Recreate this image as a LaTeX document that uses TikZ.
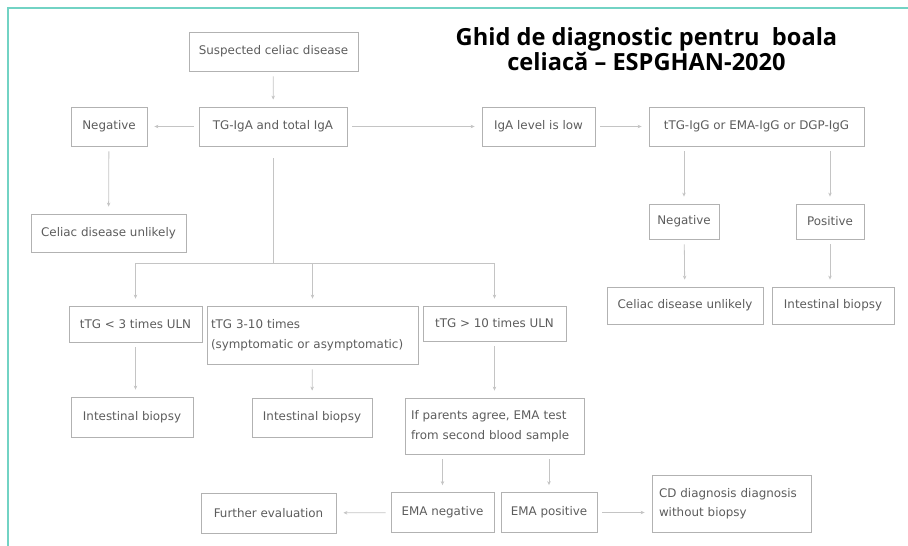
\documentclass[tikz,border=0pt]{standalone}
\usepackage{fontspec}
\setmainfont{DejaVu Sans}
\newfontfamily\titlefont{Open Sans}
\usetikzlibrary{positioning,arrows.meta}
\definecolor{frameteal}{HTML}{72D3C4}
\definecolor{boxgray}{HTML}{B2B2B2}
\definecolor{txtgray}{HTML}{5C5C5C}
\definecolor{linegray}{HTML}{C4C4C4}

\begin{document}
\begin{tikzpicture}[x=1pt, y=-1pt, line width=0.8pt, font=\fontsize{11.9}{19.5}\selectfont,
  box/.style={draw=boxgray, text=txtgray, inner sep=0pt},
  link/.style={draw=linegray, -{Stealth[length=4pt, width=3.5pt]}, shorten >=7pt, shorten <=5pt}]
  \useasboundingbox (0,0) rectangle (908,546);
  \draw[frameteal, line width=2pt] (8,546) -- (8,8) -- (908,8);
  \node[font=\titlefont\bfseries\fontsize{23.6}{23.5}\selectfont, align=center] (title) at (646.5,49)
    {Ghid de diagnostic pentru~ boala\\celiacă – ESPGHAN-2020};
  % left branch
  \node[box, minimum width=169, minimum height=39] (susp) at (273.5,51.5) {Suspected celiac disease};
  \node[box, minimum width=148, minimum height=39] (tga) at (273,126.5) {TG-IgA and total IgA};
  \node[box, minimum width=76, minimum height=39] (negl) at (109,126.5) {Negative};
  \node[box, minimum width=155, minimum height=38] (unll) at (108.5,233) {Celiac disease unlikely};
  % low IgA branch
  \node[box, minimum width=113, minimum height=39] (iga) at (538.5,126.5) {IgA level is low};
  \node[box, minimum width=215, minimum height=39] (igg) at (756.5,126.5) {tTG-IgG or EMA-IgG or DGP-IgG};
  \node[box, minimum width=70, minimum height=35] (negr) at (684,221.5) {Negative};
  \node[box, minimum width=68, minimum height=35] (posr) at (830,221.5) {Positive};
  \node[box, minimum width=156, minimum height=37] (unlr) at (685,305.5) {Celiac disease unlikely};
  \node[box, minimum width=122, minimum height=37] (biopr) at (833,305.5) {Intestinal biopsy};
  % tTG levels
  \coordinate (junc) at (273,263);
  \node[box, minimum width=133, minimum height=36] (lt3) at (135.5,324) {tTG < 3 times ULN};
  \node[box, minimum height=58, text width=203, inner xsep=4, align=left] (mid) at (312.5,335)
    {tTG 3-10 times\\(symptomatic or asymptomatic)};
  \node[box, minimum width=143, minimum height=35] (gt10) at (494.5,323.5) {tTG > 10 times ULN};
  \node[box, minimum width=122, minimum height=40] (biopl) at (132,417) {Intestinal biopsy};
  \node[box, minimum width=120, minimum height=39] (biopm) at (312,417.5) {Intestinal biopsy};
  \node[box, minimum height=56, text width=167, inner xsep=6, align=left] (agree) at (494.5,426)
    {If parents agree, EMA test\\from second blood sample};
  \node[box, minimum width=135, minimum height=40] (furth) at (268.5,513) {Further evaluation};
  \node[box, minimum width=103, minimum height=40] (emaneg) at (442.5,512.5) {EMA negative};
  \node[box, minimum width=96, minimum height=40] (emapos) at (549,512.5) {EMA positive};
  \node[box, minimum height=57, text width=145, inner xsep=7, align=left] (cd) at (731.5,503.5)
    {CD diagnosis diagnosis\\without biopsy};
  % connectors
  \draw[link] (susp) -- (tga);
  \draw[link] (tga) -- (negl);
  \draw[link] (negl) -- (unll);
  \draw[link] (tga) -- (iga);
  \draw[link] (iga) -- (igg);
  \draw[link] (igg.south -| negr) -- (negr);
  \draw[link] (igg.south -| posr) -- (posr);
  \draw[link] (negr) -- (unlr);
  \draw[link] (posr.south) -- (posr.south |- biopr.north);
  \draw[draw=linegray, shorten <=12pt] (tga) -- (junc);
  \draw[link, shorten <=0pt] (junc) -| (lt3);
  \draw[link, shorten <=0pt] (junc) -| (mid);
  \draw[link, shorten <=0pt] (junc) -| (gt10);
  \draw[link] (lt3.south) -- (lt3.south |- biopl.north);
  \draw[link] (mid) -- (biopm);
  \draw[link] (gt10) -- (agree);
  \draw[link] (agree.south -| emaneg) -- (emaneg);
  \draw[link] (agree.south -| emapos) -- (emapos);
  \draw[link] (emaneg) -- (furth);
  \draw[link] (emapos) -- (emapos -| cd.west);
\end{tikzpicture}
\end{document}
